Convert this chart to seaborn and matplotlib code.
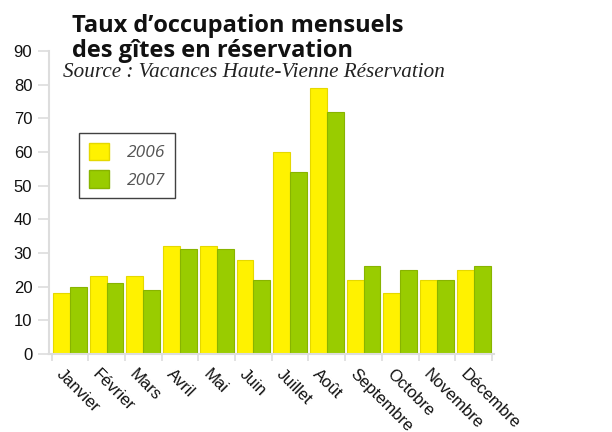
import numpy as np
import pandas as pd
import seaborn as sns
import matplotlib.pyplot as plt
import matplotlib.transforms as mtransforms
from matplotlib.patches import Patch

months = ['Janvier', 'Février', 'Mars', 'Avril', 'Mai', 'Juin', 'Juillet',
          'Août', 'Septembre', 'Octobre', 'Novembre', 'Décembre']
taux_2006 = [18, 23, 23, 32, 32, 28, 60, 79, 22, 18, 22, 25]
taux_2007 = [20, 21, 19, 31, 31, 22, 54, 72, 26, 25, 22, 26]
years = ['2006', '2007']
colors = ['#FFF200', '#99CC00']
edge_colors = ['#E5D800', '#88B400']

df = pd.DataFrame({
    'mois': months * 2,
    'annee': ['2006'] * 12 + ['2007'] * 12,
    'taux': taux_2006 + taux_2007,
})

sns.set_style('white')
plt.rcParams['font.family'] = ['Liberation Sans', 'DejaVu Sans']

fig = plt.figure(figsize=(6.12, 4.32), dpi=100)
ax = fig.add_axes([0.08, 0.181, 0.727, 0.701])

sns.barplot(data=df, x='mois', y='taux', hue='annee', palette=colors,
            width=0.92, ax=ax, legend=False, saturation=1)
for i, cont in enumerate(ax.containers):
    for bar in cont:
        bar.set_edgecolor(edge_colors[i])
        bar.set_linewidth(0.8)

ax.set_ylim(0, 90)
ax.set_xlim(-0.57, 11.55)
ax.set_yticks(range(0, 91, 10))
ax.tick_params(axis='y', labelsize=12, length=8, width=1.2, color='#DDDDDD',
               pad=4, left=True, labelcolor='#111111')
ax.set_xticks(range(12))
ax.set_xticklabels(months, rotation=-45, ha='left', va='top',
                   rotation_mode='anchor', fontsize=12, color='#111111')
ax.tick_params(axis='x', length=0, pad=9)
shift = mtransforms.ScaledTranslation(-0.06, 0, fig.dpi_scale_trans)
for lab in ax.get_xticklabels():
    lab.set_transform(lab.get_transform() + shift)
ax.set_xticks(np.arange(-0.5, 12, 1), minor=True)
ax.tick_params(axis='x', which='minor', length=5, width=1.2, color='#DDDDDD', bottom=True)
ax.set_xlabel('')
ax.set_ylabel('')
for s in ['top', 'right']:
    ax.spines[s].set_visible(False)
for s in ['left', 'bottom']:
    ax.spines[s].set_color('#DDDDDD')
    ax.spines[s].set_linewidth(1.5)

handles = [Patch(facecolor=colors[i], edgecolor=edge_colors[i], label=years[i]) for i in range(2)]
leg = ax.legend(handles=handles, loc='upper left',
                bbox_to_anchor=(79 / 612, 1 - 133 / 432), bbox_transform=fig.transFigure,
                borderaxespad=0, frameon=True, fancybox=False,
                handlelength=1.2, handleheight=1.2, handletextpad=1.0,
                borderpad=0.55, labelspacing=0.5,
                prop={'family': 'Open Sans', 'style': 'italic', 'size': 12.5})
leg.get_frame().set_edgecolor('#111111')
leg.get_frame().set_linewidth(1.0)
for t in leg.get_texts():
    t.set_color('#555555')

fig.text(0.118, 1 - 32 / 432, 'Taux d\u2019occupation mensuels',
         fontsize=17, fontweight='bold', family='Open Sans', va='baseline',
         ha='left', color='#111111')
fig.text(0.118, 1 - 57 / 432, 'des gîtes en réservation',
         fontsize=17, fontweight='bold', family='Open Sans', va='baseline',
         ha='left', color='#111111')
fig.text(0.103, 1 - 77 / 432, 'Source : Vacances Haute-Vienne Réservation',
         fontsize=15.2, style='italic', family='Liberation Serif', ha='left',
         va='baseline', color='#222222')

fig.savefig('out.png', dpi=100)
